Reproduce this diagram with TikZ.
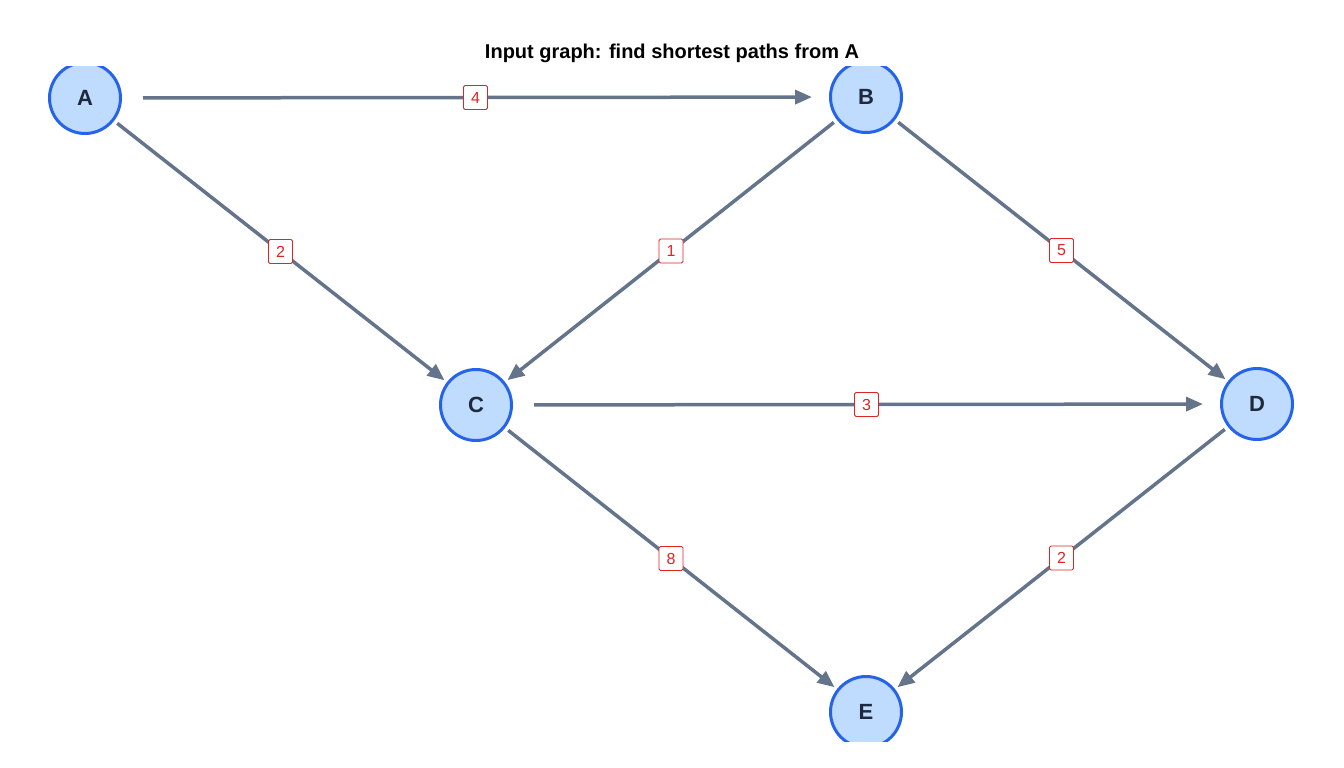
\documentclass[tikz,border=0pt]{standalone}
\usepackage{fontspec}
\setmainfont{Liberation Sans}
\usetikzlibrary{arrows.meta}
\definecolor{edgec}{HTML}{64748B}
\definecolor{nfill}{HTML}{BFDBFE}
\definecolor{ndraw}{HTML}{2563EB}
\definecolor{ntext}{HTML}{1E293B}
\definecolor{lred}{HTML}{DC2626}
\begin{document}
\begin{tikzpicture}[x=1pt,y=-1pt,
  vert/.style={circle,fill=nfill,draw=ndraw,line width=3pt,minimum size=71pt,inner sep=0pt,font=\fontsize{22}{22}\selectfont\bfseries,text=ntext},
  edge/.style={draw=edgec,line width=3.5pt,-{Triangle[length=17pt,width=14pt]}},
  hor/.style={edge,shorten <=21pt,shorten >=17pt},
  dia/.style={edge,shorten <=4pt,shorten >=3pt},
  wl/.style={fill=white,draw=lred,line width=0.8pt,rounded corners=1.5pt,text=lred,inner sep=2.5pt,font=\fontsize{16}{16}\selectfont,minimum height=24pt,minimum width=24pt}]
\useasboundingbox (0,0) rectangle (1344,768);
\node[font=\fontsize{20}{20}\selectfont\bfseries] (title) at (672,53) {Input graph: find shortest paths from A};
\begin{scope}
\clip (0,67) rectangle (1344,741);
\node[vert] (A) at (85,98) {A};
\node[vert] (B) at (866,97) {B};
\node[vert] (C) at (476,405) {C};
\node[vert] (D) at (1257,404) {D};
\node[vert] (E) at (866,712) {E};
\end{scope}
\draw[hor] (A) -- node[wl] (lab) {4} (B);
\draw[dia] (A) -- node[wl] (lac) {2} (C);
\draw[dia] (B) -- node[wl] (lbc) {1} (C);
\draw[dia] (B) -- node[wl] (lbd) {5} (D);
\draw[hor] (C) -- node[wl] (lcd) {3} (D);
\draw[dia] (C) -- node[wl] (lce) {8} (E);
\draw[dia] (D) -- node[wl] (lde) {2} (E);
\end{tikzpicture}
\end{document}
